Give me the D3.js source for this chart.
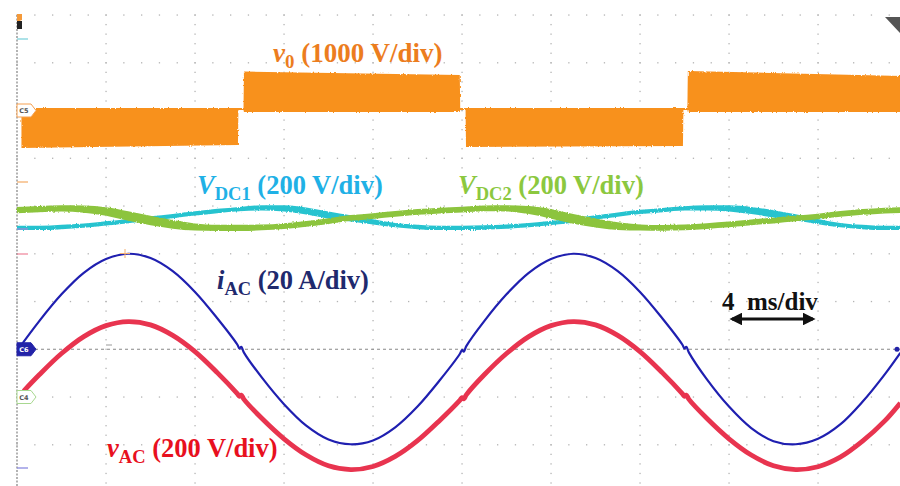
<!DOCTYPE html>
<html>
<head>
<meta charset="utf-8">
<script src="https://cdn.jsdelivr.net/npm/d3@7"></script>
<style>
  html, body { margin: 0; padding: 0; background: #fff; }
  svg { display: block; }
  .lbl { font-family: "Liberation Serif", "Times New Roman", serif; font-weight: bold; }
</style>
</head>
<body>
<svg id="scope" width="900" height="486"></svg>
<script>
// ---------------- captured waveforms ----------------
// DC-link voltages, sampled every 1 ms (V)
const dcTime = [0,1,2,3,4,5,6,7,8,9,10,11,12,13,14,15,16,17,18,19,20,21,22,23,24,25,26,27,28,29,30,31,32,33,34,35,36,37,38,39,39.7];
const vdc1 = [358,358,362,368,377,387,398,408,419,429,437,442,440,429,412,398,383,370,362,358,358,360,364,370,379,389,402,414,425,433,440,442,440,431,417,402,385,370,362,358,358];
const vdc2 = [433,437,440,437,427,408,389,373,362,358,358,360,366,375,387,400,408,417,425,431,435,440,440,433,417,396,379,366,360,358,360,366,373,381,389,398,406,417,425,431,433];
// switching ripple (peak-to-peak band width, V)
const vdc1Ripple = [18,18,18,18,18,18,18,18,18,18,18,22,26,30,30,26,22,18,18,18,18,18,18,18,18,18,18,18,18,18,18,22,26,30,30,26,22,18,18,18,18];
const vdc2Ripple = [26,26,26,30,36,40,40,36,30,26,26,24,24,24,24,24,24,24,24,24,24,24,26,34,40,40,38,32,26,24,24,24,24,24,24,24,24,24,24,24,24];

// Grid current and grid voltage (A, V)
const iacTime = [0.1,1,2,3,4,5,6,7,8,9,9.9,10,10.08,10.2,11,12,13,14,15,16,17,18,19,19.9,20,20.08,20.2,21,22,23,24,25,26,27,28,29,29.9,30,30.08,30.2,31,32,33,34,35,36,37,38,39,39.7];
const iAC = [0.6,11.8,23.0,32.0,37.8,40.0,38.2,32.7,24.0,13.0,2.0,0.3,1.0,-1.4,-11.8,-23.0,-32.0,-37.8,-39.8,-38.2,-32.7,-24.0,-13.0,-2.0,-0.3,-1.0,1.4,11.8,23.0,32.0,37.8,40.0,38.2,32.7,24.0,13.0,2.0,0.3,1.0,-1.4,-12.5,-24.0,-33.0,-38.5,-39.8,-37.5,-31.5,-22.0,-10.5,-1.5];
const vacTime = [0.3,1,2,3,4,5,6,7,8,9,9.9,10,10.08,10.2,11,12,13,14,15,16,17,18,19,19.9,20,20.08,20.2,21,22,23,24,25,26,27,28,29,29.9,30,30.08,30.2,31,32,33,34,35,36,37,38,39,39.7];
const vAC = [25,93,182,253,299,316,302,258,190,102,14,3,8,-10,-89,-175,-243,-288,-304,-291,-249,-183,-98,-14,-3,-8,10,93,182,253,299,316,302,258,190,102,14,3,8,-10,-89,-175,-243,-288,-304,-292,-252,-185,-100,-25];

// Inverter output voltage envelope (V): upper / lower edge of the PWM band
const v0Time  = [0.2, 9.93, 9.95, 10.18, 10.2, 19.9, 19.92, 20.16, 20.18, 29.93, 29.95, 30.13, 30.15, 39.8];
const v0Upper = [52, 52, 52, 52, 815, 745, 52, 52, 52, 52, 52, 52, 827, 722];
const v0Lower = [-786, -722, 10, 10, -30, -30, 10, 10, -764, -743, 10, 10, -30, -30];

// Channel settings: units per division and zero position (divisions from centre line)
const channels = {
  v0:  { perDiv: 1000, offset: 5 },
  vdc: { perDiv: 200,  offset: 0.75 },
  iac: { perDiv: 20,   offset: 0 },
  vac: { perDiv: 200,  offset: -1 }
};

// ---------------- scales ----------------
const svg = d3.select("#scope");
const x = d3.scaleLinear().domain([0, 40]).range([17, 907]);       // 4 ms / div
const yDiv = d3.scaleLinear().domain([-3, 7]).range([492.5, 15]);   // screen divisions
const yOf = ch => v => yDiv(ch.offset + v / ch.perDiv);

// rough edge for the noisy switching bands
const defs = svg.append("defs");
const fuzz = defs.append("filter").attr("id", "fuzz").attr("x", "-2%").attr("y", "-20%")
  .attr("width", "104%").attr("height", "140%");
fuzz.append("feTurbulence").attr("type", "fractalNoise").attr("baseFrequency", "1.4 0.35")
  .attr("numOctaves", 2).attr("seed", 3).attr("result", "n");
fuzz.append("feDisplacementMap").attr("in", "SourceGraphic").attr("in2", "n")
  .attr("scale", 2.6).attr("xChannelSelector", "R").attr("yChannelSelector", "G");

// ---------------- graticule ----------------
const grid = svg.append("g");
const xMajor = d3.range(0, 41, 4);
const yMajor = d3.range(-3, 8, 1);
const dotCol = "#b4b4b4";
yMajor.forEach(d => {
  if (d === 0) return;
  d3.range(0, 40.01, 0.8).forEach(t => {
    if (x(t) > 899) return;
    grid.append("rect").attr("x", x(t) - 0.6).attr("y", yDiv(d) - 0.6)
      .attr("width", 1.3).attr("height", 1.3).attr("fill", dotCol);
  });
});
xMajor.forEach(t => {
  if (t === 0 || x(t) > 899) return;
  d3.range(-3, 7.01, 0.2).forEach(d => {
    grid.append("rect").attr("x", x(t) - 0.6).attr("y", yDiv(d) - 0.6)
      .attr("width", 1.3).attr("height", 1.3).attr("fill", dotCol);
  });
});
// left frame edge
grid.append("line").attr("x1", x(0)).attr("x2", x(0)).attr("y1", yDiv(7)).attr("y2", 486)
  .attr("stroke", "#8a8a8a").attr("stroke-width", 1.3).attr("stroke-dasharray", "2,1.5");
// reference line of the current channel
grid.append("line").attr("x1", x(0)).attr("x2", 900).attr("y1", yDiv(0)).attr("y2", yDiv(0))
  .attr("stroke", "#888").attr("stroke-width", 1.2).attr("stroke-dasharray", "3,3");

// ---------------- traces ----------------
const traces = svg.append("g");

// inverter output band
const yV0 = yOf(channels.v0);
const v0Rows = v0Time.map((t, i) => ({ t, hi: v0Upper[i], lo: v0Lower[i] }));
traces.append("path").datum(v0Rows)
  .attr("d", d3.area().x(d => x(d.t)).y0(d => yV0(d.lo)).y1(d => yV0(d.hi)))
  .attr("fill", "#f8911f").attr("filter", "url(#fuzz)");

// DC-link voltage bands
const yDC = yOf(channels.vdc);
function dcBand(values, ripple, color) {
  const rows = dcTime.map((t, i) => ({ t, v: values[i], r: ripple[i] }));
  traces.append("path").datum(rows)
    .attr("d", d3.area().curve(d3.curveMonotoneX)
      .x(d => x(d.t)).y0(d => yDC(d.v - d.r / 2)).y1(d => yDC(d.v + d.r / 2)))
    .attr("fill", color).attr("filter", "url(#fuzz)");
}
dcBand(vdc1, vdc1Ripple, "#27c3cf");
dcBand(vdc2, vdc2Ripple, "#8cc43c");

// grid current
const yI = yOf(channels.iac);
traces.append("path").datum(iacTime.map((t, i) => ({ t, v: iAC[i] })))
  .attr("d", d3.line().curve(d3.curveCatmullRom.alpha(0.5)).x(d => x(d.t)).y(d => yI(d.v)))
  .attr("fill", "none").attr("stroke", "#1f1fb0").attr("stroke-width", 2.2);

// grid voltage
const yV = yOf(channels.vac);
traces.append("path").datum(vacTime.map((t, i) => ({ t, v: vAC[i] })))
  .attr("d", d3.line().curve(d3.curveCatmullRom.alpha(0.5)).x(d => x(d.t)).y(d => yV(d.v)))
  .attr("fill", "none").attr("stroke", "#e8344f").attr("stroke-width", 4.8);

// ---------------- channel markers ----------------
const marks = svg.append("g");
function tag(yc, name, fill, stroke, textCol) {
  const pts = [[17, yc - 6.5], [31, yc - 6.5], [36, yc], [31, yc + 6.5], [17, yc + 6.5]];
  marks.append("polygon").attr("points", pts.map(p => p.join(",")).join(" "))
    .attr("fill", fill).attr("stroke", stroke).attr("stroke-width", 1);
  marks.append("text").attr("x", 24).attr("y", yc + 2.5).attr("text-anchor", "middle")
    .attr("font-family", "DejaVu Sans, sans-serif").attr("font-size", 6.5).attr("font-weight", "bold")
    .attr("fill", textCol).text(name);
}
tag(yV0(0), "C5", "#fff", "#f5a050", "#555");
tag(yI(0), "C6", "#2323a8", "#2323a8", "#fff");
tag(yV(0), "C4", "#fff", "#a8d890", "#555");
[[39, "#7fd3dc"], [182, "#f5b070"], [229, "#9a8ad8"], [254, "#f08ca0"], [468, "#8a8ae0"]].forEach(([yy, c]) => {
  marks.append("line").attr("x1", 17).attr("x2", 28).attr("y1", yy).attr("y2", yy)
    .attr("stroke", c).attr("stroke-width", 1.3);
});
// trigger markers
marks.append("polygon").attr("points", "17,14 22,14 22,20 17,22").attr("fill", "#f59a3a");
marks.append("rect").attr("x", 17).attr("y", 21).attr("width", 5).attr("height", 8).attr("fill", "#222");
marks.append("polygon").attr("points", "885,17 900,17 900,33").attr("fill", "#555");
marks.append("line").attr("x1", 106).attr("x2", 112).attr("y1", 345).attr("y2", 345).attr("stroke", "#999");
marks.append("circle").attr("cx", 897).attr("cy", yI(0)).attr("r", 2.5).attr("fill", "#2323a8");
// cursor cross at the current peak
marks.append("path").attr("d", "M120,253.5 H130 M125,249 V258").attr("stroke", "#f5b070").attr("stroke-width", 1);

// ---------------- annotations ----------------
const notes = svg.append("g").attr("class", "lbl");
function label(px, py, parts, color, size) {
  const t = notes.append("text").attr("x", px).attr("y", py).attr("fill", color).attr("font-size", size);
  parts.forEach(p => {
    const s = t.append("tspan").text(p.s);
    if (p.it) s.attr("font-style", "italic");
    if (p.sub) s.attr("font-size", size * 0.7).attr("dy", size * 0.22);
    if (p.up) s.attr("dy", -size * 0.22);
  });
}
label(273, 62, [{ s: "v", it: true }, { s: "0", sub: true }, { s: " (1000 V/div)", up: true }], "#ec7d1e", 27);
label(197, 194, [{ s: "V", it: true }, { s: "DC1", sub: true }, { s: " (200 V/div)", up: true }], "#1fb1e6", 26.5);
label(458, 194, [{ s: "V", it: true }, { s: "DC2", sub: true }, { s: " (200 V/div)", up: true }], "#8cc83f", 26.5);
label(217, 289, [{ s: "i", it: true }, { s: "AC", sub: true }, { s: " (20 A/div)", up: true }], "#1f2a6e", 26.5);
label(107, 457, [{ s: "v", it: true }, { s: "AC", sub: true }, { s: " (200 V/div)", up: true }], "#e8101e", 26.5);
label(722, 310, [{ s: "4\u00a0\u00a0ms/div" }], "#111", 25);

// time-base arrow
defs.append("marker").attr("id", "ah").attr("viewBox", "0 0 10 10").attr("refX", 8).attr("refY", 5)
  .attr("markerWidth", 4).attr("markerHeight", 4).attr("orient", "auto-start-reverse")
  .append("path").attr("d", "M0,0 L10,5 L0,10 z").attr("fill", "#111");
notes.append("line").attr("x1", 732).attr("x2", 813).attr("y1", 319).attr("y2", 319)
  .attr("stroke", "#111").attr("stroke-width", 3.2)
  .attr("marker-start", "url(#ah)").attr("marker-end", "url(#ah)");
</script>
</body>
</html>
